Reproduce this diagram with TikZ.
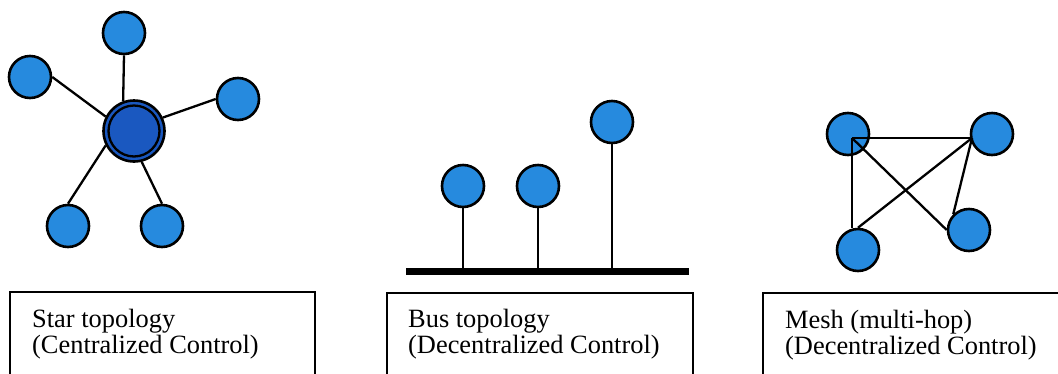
\documentclass[tikz,border=0pt]{standalone}
\usepackage{fontspec}
\setmainfont{Liberation Serif}
\usepackage{xcolor}
\usetikzlibrary{positioning,calc}
\definecolor{nodeblue}{RGB}{38,138,222}
\definecolor{hubblue}{RGB}{26,88,192}

\begin{document}
\begin{tikzpicture}[x=1pt,y=-1pt,
  station/.style={circle, draw=black, line width=2.6pt, fill=nodeblue, minimum size=42pt, inner sep=0pt},
  hub/.style={station, fill=hubblue, minimum size=61pt},
  link/.style={line width=2.3pt},
  bus/.style={line width=7pt},
  frame/.style={line width=1.6pt},
  caption/.style={align=left, inner sep=0pt, anchor=base west, font=\fontsize{26.4}{26}\selectfont}]
  \useasboundingbox (0,0) rectangle (1058,373);

  % star
  \node[hub] (hub) at (134,131) {};
  \draw[line width=2.3pt] (hub.center) circle (25.5pt);
  \node[station] (stop)   at (124,33)  {};
  \node[station] (sleft)  at (30,77)   {};
  \node[station] (sright) at (238,99)  {};
  \node[station] (sbl)    at (68,226)  {};
  \node[station] (sbr)    at (162,226) {};
  \draw[link] (stop.south) -- (hub.110);
  \draw[link] (sleft.east) -- (hub.153);
  \draw[link] (sright.west) -- (hub.25);
  \draw[link] (sbl.north) -- (hub.207);
  \draw[link] (sbr.north) -- (hub.-76);

  % bus
  \coordinate (busL) at (406,271.5);
  \coordinate (busR) at (689,271.5);
  \draw[bus] (busL) -- (busR);
  \node[station] (bone)   at (463,186) {};
  \node[station] (btwo)   at (538,186) {};
  \node[station] (bthree) at (612,122) {};
  \foreach \b in {bone,btwo,bthree}
    \draw[link] (\b.south) -- (\b.south |- busL);

  % mesh
  \node[station] (mtl) at (848,134) {};
  \node[station] (mtr) at (992,134) {};
  \node[station] (mbr) at (969,230) {};
  \node[station] (mbl) at (858,250) {};
  \coordinate (hopA) at (852,138);
  \coordinate (hopB) at (972,138);
  \draw[link] (hopA) -- (hopB);
  \draw[link] (hopA) -- (hopA |- mbl.north);
  \draw[link] (hopA) -- (mbr.west);
  \draw[link] (hopB) -- (mbl.north);
  \draw[link] (hopB) -- (mbr.north west);

  % captions
  \draw[frame] (10,292) rectangle (315,420);
  \draw[frame] (387,293) rectangle (693,420);
  \draw[frame] (763,293) rectangle (1075,420);
  \node[caption] (starcap) at (32,353)  {Star topology\\(Centralized Control)};
  \node[caption] (buscap)  at (408,353) {Bus topology\\(Decentralized Control)};
  \node[caption] (meshcap) at (785,354) {Mesh (multi-hop)\\(Decentralized Control)};
\end{tikzpicture}
\end{document}
